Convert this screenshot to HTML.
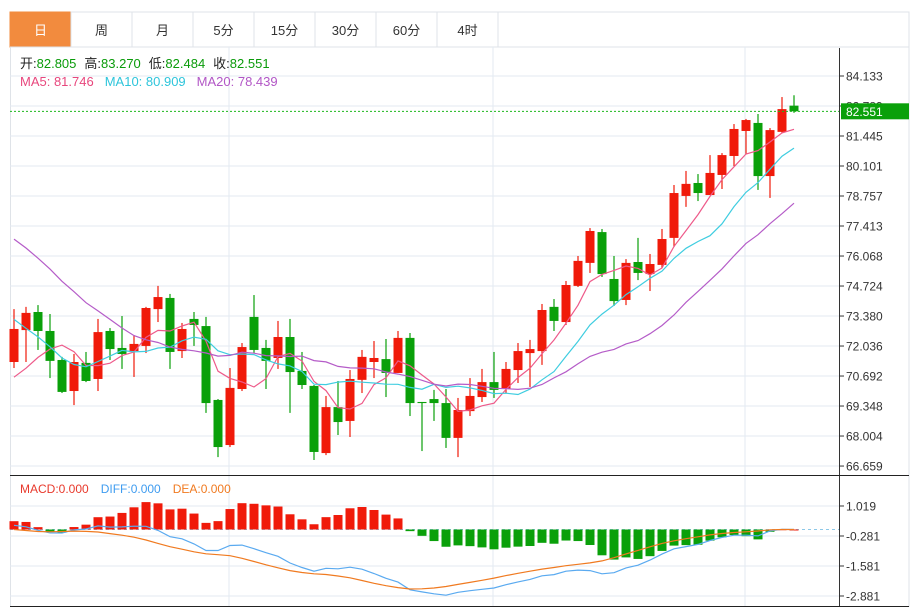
<!DOCTYPE html>
<html><head><meta charset="utf-8">
<style>
body{margin:0;background:#fff;}
svg{display:block;font-family:"Liberation Sans","Noto Sans CJK SC",sans-serif;}
</style></head>
<body>
<svg id="chart" width="921" height="609" viewBox="0 0 921 609">
<g id="tabs"></g>
<g id="grid"></g>
<g id="main"></g>
<g id="macd"></g>
<g id="axes"></g>
<g id="legend">
 <text x="20" y="68" font-size="13"><tspan fill="#222">开:</tspan><tspan fill="#0a9b0a">82.805</tspan><tspan fill="#222" dx="8">高:</tspan><tspan fill="#0a9b0a">83.270</tspan><tspan fill="#222" dx="8">低:</tspan><tspan fill="#0a9b0a">82.484</tspan><tspan fill="#222" dx="8">收:</tspan><tspan fill="#0a9b0a">82.551</tspan></text>
 <text x="20" y="86" font-size="13"><tspan fill="#e8477d">MA5: 81.746</tspan><tspan fill="#2ec5db" dx="11">MA10: 80.909</tspan><tspan fill="#b256c6" dx="11">MA20: 78.439</tspan></text>
 <text x="20" y="493" font-size="12"><tspan fill="#e8392c">MACD:0.000</tspan><tspan fill="#3f9cf0" dx="12">DIFF:0.000</tspan><tspan fill="#f07a20" dx="12">DEA:0.000</tspan></text>
</g>
</svg>
<script>
const opens  = [71.32,72.75,73.56,72.71,71.41,70.02,71.28,70.56,72.71,71.95,71.81,72.04,73.69,74.19,71.81,73.25,72.93,69.62,67.60,70.11,73.34,71.95,71.50,72.44,70.92,70.25,67.24,69.30,68.68,70.52,71.32,71.45,70.83,72.40,69.53,69.66,69.48,67.92,69.12,69.75,70.42,70.11,70.96,71.72,71.81,73.79,73.11,74.73,75.76,77.14,75.04,74.10,75.80,75.26,75.67,76.88,78.76,79.34,78.80,79.70,80.55,81.67,82.03,79.65,81.63,82.805];
const highs  = [73.69,73.79,73.87,73.47,71.55,71.68,71.77,73.25,72.84,73.38,72.53,73.79,74.73,74.37,73.07,73.56,73.34,69.66,71.05,72.17,74.32,72.31,73.16,73.25,71.77,70.29,69.80,70.47,70.96,71.86,72.26,72.35,72.71,72.62,69.53,70.07,70.11,69.71,70.60,71.01,71.77,71.32,72.17,72.31,73.92,74.14,74.95,76.07,77.32,77.28,76.07,75.93,76.88,76.16,77.28,79.25,79.88,79.74,80.59,80.68,81.98,82.21,82.43,81.80,83.19,83.270];
const lows   = [71.05,71.32,71.86,70.60,69.93,69.39,70.42,70.02,71.41,71.01,70.65,71.72,73.11,71.01,71.50,72.04,69.04,67.06,67.51,70.02,71.72,70.11,71.01,69.04,70.11,66.93,67.15,68.05,67.96,69.93,70.60,69.75,70.83,68.90,67.33,68.68,67.47,67.06,68.90,69.53,69.71,69.93,70.38,70.20,71.19,72.71,72.98,74.68,75.31,75.13,73.83,73.87,74.99,74.50,75.53,76.47,78.27,78.53,78.80,79.07,80.10,80.64,79.03,78.67,81.58,82.484];
const closes = [72.80,73.52,72.71,71.37,69.98,71.32,70.47,72.66,71.90,71.68,72.13,73.74,74.23,71.77,72.80,72.98,69.48,67.51,70.16,71.99,71.86,71.37,72.44,70.87,70.29,67.29,69.30,68.63,70.56,71.55,71.50,70.83,72.40,69.48,69.48,69.48,67.92,69.17,69.80,70.42,70.07,71.01,71.81,71.90,73.65,73.16,74.77,75.85,77.19,75.26,74.05,75.76,75.31,75.71,76.83,78.89,79.30,78.89,79.79,80.59,81.76,82.16,79.65,81.71,82.65,82.551];
const priorCloses = [81.5,81.8,81.2,80.9,80.6,80.3,80.0,79.6,79.3,79.0,77.5,76.6,75.8,75.0,74.2,71.5,70.3,69.5,69.1];
const priceTicks = [84.133,82.789,81.445,80.101,78.757,77.413,76.068,74.724,73.380,72.036,70.692,69.348,68.004,66.659];
const macdTicks = [1.019,-0.281,-1.581,-2.881];
const tabLabels = ["日","周","月","5分","15分","30分","60分","4时"];
const lastPrice = 82.551;

const NS="http://www.w3.org/2000/svg";
function mk(parent,tag,attrs){const e=document.createElementNS(NS,tag);for(const k in attrs)e.setAttribute(k,attrs[k]);parent.appendChild(e);return e;}
const yP = v => 76 + (84.133 - v) * 30 / 1.344;
const yM = v => 529.5 - v * 30 / 1.3;
const xC = i => 14 + 12 * i;
const RED="#f01a0a", GREEN="#0aa00a";

// tabs
const tabs=document.getElementById('tabs');
mk(tabs,'rect',{x:10,y:12,width:899,height:35,fill:'#fff',stroke:'#dfe3e8'});
tabLabels.forEach((t,i)=>{
  const g=mk(tabs,'g',{});
  
  
  const x=10+61*i;
  mk(g,'rect',{x:x,y:12,width:61,height:35,fill:i===0?'#f28b3e':'#fff',stroke:i===0?'#f28b3e':'#dfe3e8'});
  const tx=mk(g,'text',{x:x+30.5,y:35,'text-anchor':'middle','font-size':13,fill:i===0?'#fff':'#333'});
  tx.textContent=t;
});

// grid
const grid=document.getElementById('grid');
mk(grid,'line',{x1:10,y1:47,x2:909,y2:47,stroke:'#dfe3e8'});
mk(grid,'line',{x1:909,y1:47,x2:909,y2:607,stroke:'#dfe3e8'});
mk(grid,'line',{x1:10.5,y1:47,x2:10.5,y2:607,stroke:'#dfe3e8'});
priceTicks.forEach(v=>{mk(grid,'line',{x1:10,y1:yP(v),x2:839,y2:yP(v),stroke:'#e3eaf2'});});
macdTicks.forEach(v=>{mk(grid,'line',{x1:10,y1:yM(v),x2:839,y2:yM(v),stroke:'#e3eaf2'});});
[229,493,745].forEach(x=>{mk(grid,'line',{x1:x,y1:47,x2:x,y2:607,stroke:'#e3eaf2'});});

// MA
const all=priorCloses.concat(closes);
function ma(n){return closes.map((c,i)=>{const j=i+priorCloses.length;let s=0;for(let k=j-n+1;k<=j;k++)s+=all[k];return s/n;});}
const main=document.getElementById('main');
// candles
closes.forEach((c,i)=>{
  const o=opens[i], up=c>=o, col=up?RED:GREEN, x=xC(i);
  const g=mk(main,'g',{});
  
  
  mk(g,'line',{x1:x,y1:yP(highs[i]),x2:x,y2:yP(lows[i]),stroke:col,'stroke-width':1.2});
  const t=yP(Math.max(o,c)), b=yP(Math.min(o,c));
  mk(g,'rect',{x:x-4.5,y:t,width:9,height:Math.max(1,b-t),fill:col});
});
[[5,'#ee5a8a'],[10,'#3fcde0'],[20,'#b55cc8']].forEach(([n,col])=>{
  const d=ma(n).map((v,i)=>(i?'L':'M')+xC(i)+' '+yP(v).toFixed(1)).join(' ');
  const p=mk(main,'path',{d:d,fill:'none',stroke:col,'stroke-width':1.2});
  
  
});
const pl=mk(main,'line',{x1:10,y1:yP(lastPrice),x2:839,y2:yP(lastPrice),stroke:'#1db81d','stroke-dasharray':'2,2'});



// MACD computed (reverse order as displayed)
const N=closes.length;
const diff=new Array(N), dea=new Array(N), hist=new Array(N);
let e12=closes[N-1], e26=closes[N-1], d9=0;
for(let i=N-1;i>=0;i--){
  e12=e12*11/13+closes[i]*2/13;
  e26=e26*25/27+closes[i]*2/27;
  diff[i]=e12-e26;
  d9=d9*8/10+diff[i]*2/10;
  dea[i]=d9;
  hist[i]=2*(diff[i]-dea[i]);
}
const macd=document.getElementById('macd');
mk(macd,'line',{x1:10,y1:yM(0),x2:839,y2:yM(0),stroke:'#8cc8e8','stroke-dasharray':'3,3'});
hist.forEach((v,i)=>{
  const r=mk(macd,'rect',{x:xC(i)-4.5,y:Math.min(yM(0),yM(v)),width:9,height:Math.max(1,Math.abs(yM(v)-yM(0))),fill:v>=0?RED:GREEN});
  
  
});
[[diff,'#5aaaf0','diff-line'],[dea,'#f07a20','dea-line']].forEach(([arr,col,nm])=>{
  const d=arr.map((v,i)=>(i?'L':'M')+xC(i)+' '+yM(v).toFixed(1)).join(' ');
  const p=mk(macd,'path',{d:d,fill:'none',stroke:col,'stroke-width':1.2});
  
  
});

// axes
const ax=document.getElementById('axes');
mk(ax,'line',{x1:839.5,y1:48,x2:839.5,y2:607,stroke:'#333'});
mk(ax,'line',{x1:10,y1:475.5,x2:909,y2:475.5,stroke:'#222'});
mk(ax,'line',{x1:10,y1:606.5,x2:909,y2:606.5,stroke:'#222'});
priceTicks.forEach(v=>{
  mk(ax,'line',{x1:839,y1:yP(v),x2:844,y2:yP(v),stroke:'#333'});
  const t=mk(ax,'text',{x:846,y:yP(v)+4.5,'font-size':12,fill:'#333'});
  
  
  t.textContent=v.toFixed(3);
});
macdTicks.forEach(v=>{
  mk(ax,'line',{x1:839,y1:yM(v),x2:844,y2:yM(v),stroke:'#333'});
  const t=mk(ax,'text',{x:846,y:yM(v)+4.5,'font-size':12,fill:'#333'});
  
  
  t.textContent=v.toFixed(3);
});
const lb=mk(ax,'rect',{x:841,y:yP(lastPrice)-8,width:68,height:16,fill:'#0aa00a'});


const lt=mk(ax,'text',{x:846,y:yP(lastPrice)+4.5,'font-size':12,fill:'#fff'});
lt.textContent=lastPrice.toFixed(3);
</script>
</body></html>
